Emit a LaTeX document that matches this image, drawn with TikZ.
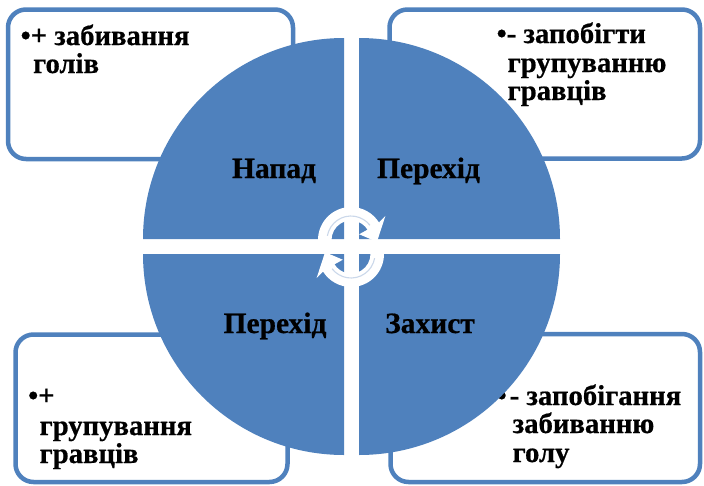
\documentclass[tikz,border=0pt]{standalone}
\usepackage{fontspec}
\setmainfont{Liberation Serif}[BoldFeatures={FakeBold=0.6}]
\usetikzlibrary{calc}
\definecolor{acc}{HTML}{4F81BD}
\definecolor{pale}{HTML}{CBD8EA}
\begin{document}
\begin{tikzpicture}[x=1pt,y=-1pt,
  box/.style={draw=acc, line width=4.5pt, fill=white, rounded corners=18pt},
  txt/.style={anchor=base west, inner sep=0pt, font=\fontsize{28.7}{28}\selectfont\bfseries, text=black},
  lbl/.style={anchor=base, inner sep=0pt, font=\fontsize{29.5}{28}\selectfont\bfseries, text=black},
  quad/.style={fill=acc}]
\useasboundingbox (0,0) rectangle (704,485);
% boxes
\draw[box] (8,9.5) rectangle (293,159);
\draw[box] (389.5,9.5) rectangle (700,158.5);
\draw[box] (15.5,334.5) rectangle (287.5,482);
\draw[box] (390.5,334) rectangle (700,482);
% box texts
\node[txt] (tl1) at (20.5,45) {•+ забивання};
\node[txt] (tl2) at (33,73) {голів};
\node[txt] (tr1) at (496.5,43) {•- запобігти};
\node[txt] (tr2) at (507.5,72) {групуванню};
\node[txt] (tr3) at (507.5,100) {гравців};
\node[txt] (bl1) at (28,405) {•+};
\node[txt] (bl2) at (39.5,435) {групування};
\node[txt] (bl3) at (39.5,463) {гравців};
\node[txt] (br1) at (496.5,405) {•\kern3pt- запобігання};
\node[txt] (br2) at (512.5,433) {забиванню};
\node[txt] (br3) at (512.5,462) {голу};
% quadrants
\fill[quad] (344,239) -- ++(-201,0) arc[start angle=180,end angle=270,radius=201] -- cycle;
\fill[quad] (359,239) -- ++(0,-201) arc[start angle=270,end angle=360,radius=201] -- cycle;
\fill[quad] (359,254) -- ++(201,0) arc[start angle=0,end angle=90,radius=201] -- cycle;
\fill[quad] (344,254) -- ++(0,201) arc[start angle=90,end angle=180,radius=201] -- cycle;
% labels
\node[lbl] (q1) at (274,178) {Напад};
\node[lbl] (q2) at (428.5,178) {Перехід};
\node[lbl] (q3) at (275,333) {Перехід};
\node[lbl] (q4) at (430,333) {Захист};
% circular arrows
\foreach \r in {0,180}{
\begin{scope}[rotate around={\r:(351,247)}]
\fill[white] (351,240) ++(180:33) arc[start angle=180,end angle=328,radius=33]
  -- ($(351,240)+(325:42)$) -- ($(351,240)+(4:26)$) -- ($(351,240)+(325:10)$)
  -- ($(351,240)+(328:19.5)$) arc[start angle=328,end angle=180,radius=19.5] -- cycle;
\draw[pale, line width=1.1pt] (351,240) ++(190:24) arc[start angle=190,end angle=322,radius=24];
\end{scope}}
\end{tikzpicture}
\end{document}
